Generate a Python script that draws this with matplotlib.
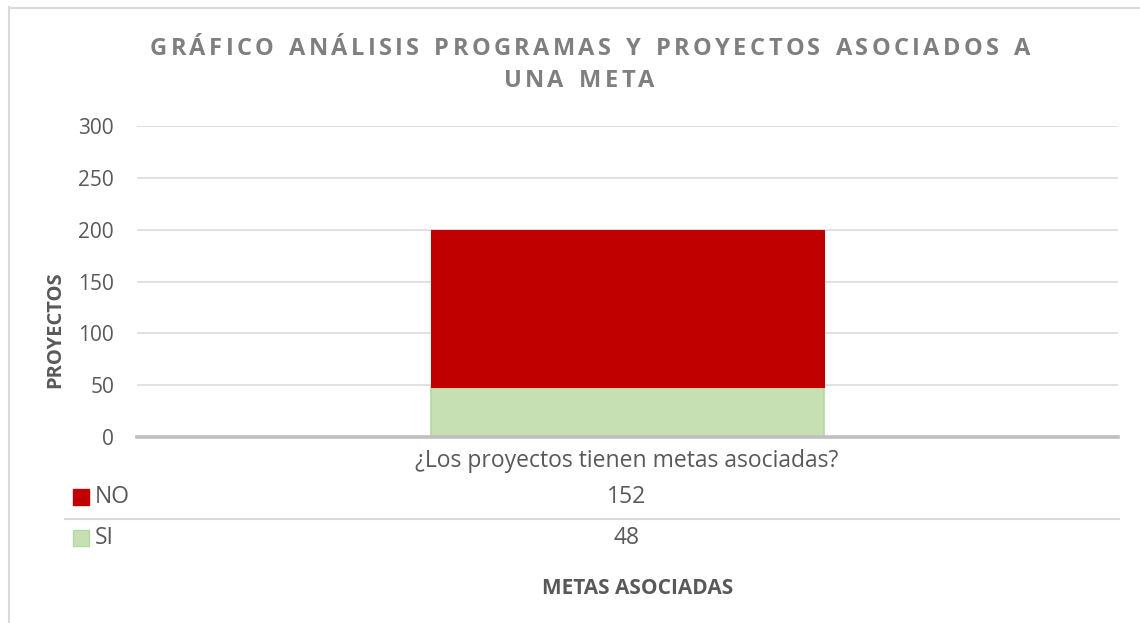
import matplotlib
matplotlib.use("Agg")
import matplotlib.pyplot as plt
from matplotlib.lines import Line2D
from matplotlib.patches import Rectangle

# Data
categories = ["¿Los proyectos tienen metas asociadas?"]
series_names = ["NO", "SI"]
no_values = [152]
si_values = [48]
y_ticks = [0, 50, 100, 150, 200, 250, 300]

title_lines = ["GRÁFICO ANÁLISIS PROGRAMAS Y PROYECTOS ASOCIADOS A", "UNA META"]
y_label = "PROYECTOS"
x_label = "METAS ASOCIADAS"

RED = "#C00000"
GREEN = "#C6E0B4"
GREEN_EDGE = "#B4D8A0"
TEXT = "#595959"
GRID = "#D9D9D9"

plt.rcParams["font.family"] = ["Open Sans", "DejaVu Sans"]
TICK = 15
BODY = 16.5

W, H = 1140, 623
fig = plt.figure(figsize=(W / 100, H / 100), dpi=100)


def fx(px):
    return px / W


def fy(py):
    return 1 - py / H


ax = fig.add_axes([fx(137), fy(437), fx(1118) - fx(137), fy(126) - fy(437)])

x = list(range(len(categories)))
ax.bar(x, si_values, width=0.4, color=GREEN, edgecolor=GREEN_EDGE, linewidth=1.2, zorder=3)
ax.bar(x, no_values, width=0.4, bottom=si_values, color=RED, edgecolor=RED, linewidth=0.8, zorder=3)

ax.set_xlim(-0.5, 0.5)
ax.set_ylim(0, 300)
ax.set_yticks(y_ticks)
ax.set_yticklabels([str(t) for t in y_ticks])
ax.set_xticks([])
ax.tick_params(axis="y", length=0, pad=16.5, labelsize=TICK, labelcolor=TEXT)
ax.grid(axis="y", color=GRID, linewidth=1.1, zorder=0)
for s in ["top", "right", "left"]:
    ax.spines[s].set_visible(False)
ax.spines["bottom"].set_color("#BFBFBF")
ax.spines["bottom"].set_linewidth(2.6)
ax.spines["bottom"].set_zorder(4)

fig.text(fx(55), fy(330), y_label, rotation=90, ha="center", va="center",
         fontsize=14.5, fontweight="bold", color=TEXT)

# Title with letter spacing
fig.canvas.draw()
renderer = fig.canvas.get_renderer()
TITLE_PROPS = dict(fontsize=17, fontweight="bold", color="#7F7F7F", va="center", ha="left")


def char_widths(s):
    widths = []
    for ch in s:
        t = fig.text(0, 0, ch if ch != " " else "n", **TITLE_PROPS)
        w = t.get_window_extent(renderer).width
        if ch == " ":
            w *= 0.55
        widths.append(w)
        t.remove()
    return widths


def spaced_text(s, cx, cy, tracking):
    widths = char_widths(s)
    total = sum(widths) + tracking * (len(s) - 1)
    xpos = cx - total / 2
    for ch, w in zip(s, widths):
        if ch != " ":
            fig.text(fx(xpos), fy(cy), ch, **TITLE_PROPS)
        xpos += w + tracking


line1_width = 880
w1 = char_widths(title_lines[0])
tracking = (line1_width - sum(w1)) / (len(title_lines[0]) - 1)
spaced_text(title_lines[0], 590, 49, tracking)
spaced_text(title_lines[1], 579, 81, tracking)

# Data table below the axis
cx = 627
fig.text(fx(cx), fy(461), categories[0], ha="center", va="center", fontsize=BODY, color=TEXT)
rows = [(series_names[0], no_values[0], RED, RED, 497),
        (series_names[1], si_values[0], GREEN, GREEN_EDGE, 538)]
for name, val, fc, ec, py in rows:
    fig.patches.append(Rectangle((fx(73), fy(py + 8)), fx(16), fy(py - 8) - fy(py + 8),
                                 transform=fig.transFigure, facecolor=fc, edgecolor=ec,
                                 linewidth=1))
    fig.text(fx(95), fy(py), name, ha="left", va="center", fontsize=BODY, color=TEXT)
    fig.text(fx(cx), fy(py), str(val), ha="center", va="center", fontsize=BODY, color=TEXT)

fig.lines.append(Line2D([fx(65), fx(1119)], [fy(518.5), fy(518.5)], transform=fig.transFigure,
                        color=GRID, linewidth=1.5))

fig.text(fx(638), fy(588), x_label, ha="center", va="center", fontsize=15,
         fontweight="bold", color=TEXT)

# Chart frame
fig.lines.append(Line2D([fx(8.5), fx(8.5)], [fy(7), 0], transform=fig.transFigure,
                        color=GRID, linewidth=1.5))
fig.lines.append(Line2D([fx(8.5), 1], [fy(7.5), fy(7.5)], transform=fig.transFigure,
                        color=GRID, linewidth=1.5))

fig.savefig("out.png", dpi=100, facecolor="white")
